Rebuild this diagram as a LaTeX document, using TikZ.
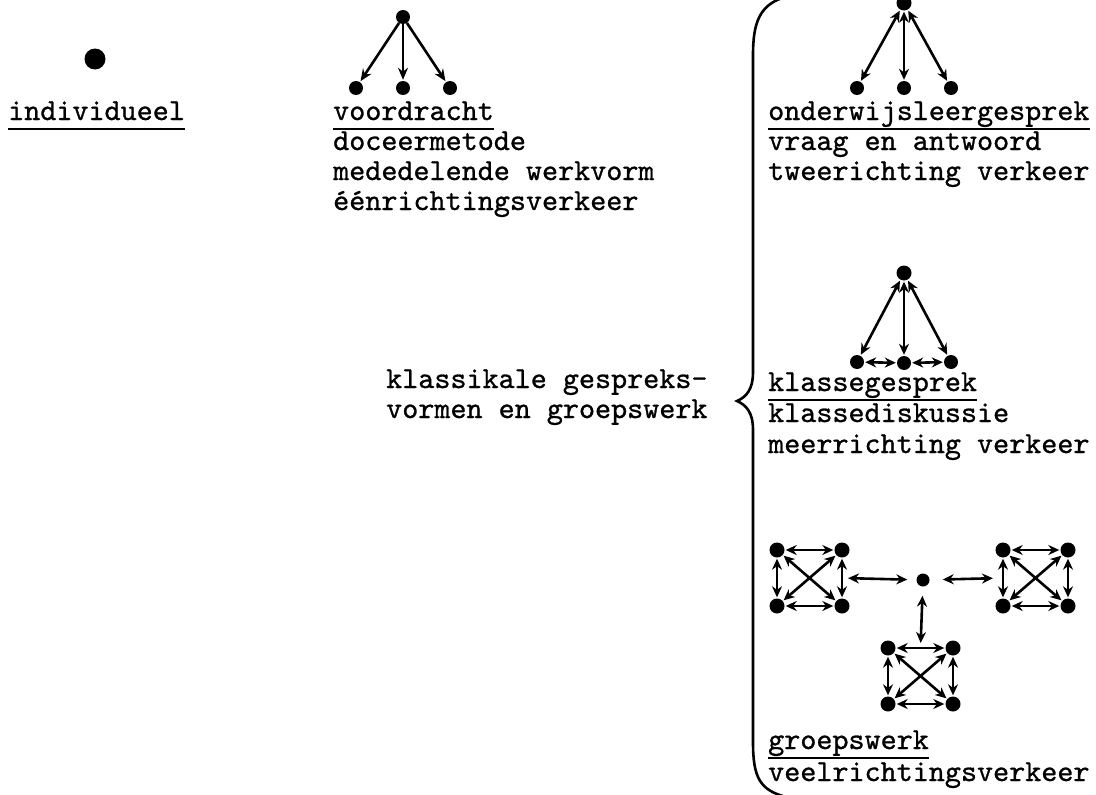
\documentclass[tikz,border=0pt]{standalone}
\usepackage{fontspec}
\newfontfamily\typefont{lmmono10-regular.otf}[FakeBold=0.9]
\usetikzlibrary{arrows.meta,positioning,calc}

\tikzset{
  dot/.style={circle,fill,inner sep=0pt,minimum size=14pt},
  txt/.style={inner sep=0pt,anchor=base west,font=\typefont\fontsize{30.6}{30}\selectfont},
  uline/.style={line width=2.8pt},
  arr/.style={-{Stealth[length=12pt,width=10pt]},line width=2.6pt,shorten >=1pt},
  both/.style={{Stealth[length=11pt,width=10pt]}-{Stealth[length=11pt,width=10pt]},line width=2.6pt,shorten >=1pt,shorten <=1pt},
  brace/.style={line width=2.6pt},
}
\newcommand{\headline}[1]{\draw[uline] ([yshift=-9pt]#1.base west) -- ([yshift=-9pt]#1.base east);}

\begin{document}
\begin{tikzpicture}[x=1pt,y=-1pt]
   \useasboundingbox (0,0) rectangle (1096,795);

   % individueel
   \node[dot,minimum size=21pt] (idot) at (95,59) {};
   \node[txt] (ind) at (8,120) {individueel};
   \headline{ind}

   % voordracht
   \node[dot] (vtop) at (403,17) {};
   \node[dot] (v1) at (356,88) {};
   \node[dot] (v2) at (403,88) {};
   \node[dot] (v3) at (450,88) {};
   \draw[arr] (vtop) -- (v1);
   \draw[arr] (vtop) -- (v2);
   \draw[arr] (vtop) -- (v3);
   \node[txt] (vd) at (333,120) {voordracht};
   \headline{vd}
   \node[txt] (vd1) at (333,150) {doceermetode};
   \node[txt] (vd2) at (333,180) {mededelende werkvorm};
   \node[txt] (vd3) at (333,210) {éénrichtingsverkeer};

   % brace
   \coordinate (tip) at (737,401);
   \draw[brace] (782,-2) .. controls (760,6) and (753,22) .. (753,55)
      -- (753,372) .. controls (753,390) and (746,397) .. (tip)
      .. controls (746,405) and (753,412) .. (753,430)
      -- (753,742) .. controls (753,778) and (760,790) .. (786,797);
   \node[txt] (kl1) at (386,388) {klassikale gespreks-};
   \node[txt] (kl2) at (386,418) {vormen en groepswerk};

   % onderwijsleergesprek
   \node[dot,minimum size=15pt] (otop) at (904,3) {};
   \node[dot] (o1) at (857,88) {};
   \node[dot] (o2) at (904,88) {};
   \node[dot] (o3) at (951,88) {};
   \draw[both] (otop) -- (o1);
   \draw[both] (otop) -- (o2);
   \draw[both] (otop) -- (o3);
   \node[txt] (ow) at (768,120) {onderwijsleergesprek};
   \headline{ow}
   \node[txt] (ow1) at (768,150) {vraag en antwoord};
   \node[txt] (ow2) at (768,180) {tweerichting verkeer};

   % klassegesprek
   \node[dot,minimum size=15pt] (ktop) at (904,273) {};
   \node[dot] (k1) at (857,362) {};
   \node[dot] (k2) at (904,363) {};
   \node[dot] (k3) at (951,362) {};
   \draw[both] (ktop) -- (k1);
   \draw[both] (ktop) -- (k2);
   \draw[both] (ktop) -- (k3);
   \draw[both] (k1) -- (k2);
   \draw[both] (k2) -- (k3);
   \node[txt] (kg) at (768,391) {klassegesprek};
   \headline{kg}
   \node[txt] (kg1) at (768,422) {klassediskussie};
   \node[txt] (kg2) at (768,453) {meerrichting verkeer};

   % groepswerk
   \node[dot,minimum size=13pt] (mid) at (923,580) {};
   \foreach \g/\x/\y in {L/777/550,R/1003/550,B/888/648}{
      \node[dot,minimum size=15pt] (\g1) at (\x,\y) {};
      \node[dot,minimum size=15pt] (\g2) at (\x+65,\y) {};
      \node[dot,minimum size=15pt] (\g3) at (\x,\y+56) {};
      \node[dot,minimum size=15pt] (\g4) at (\x+65,\y+56) {};
      \draw[both] (\g1) -- (\g2);
      \draw[both] (\g3) -- (\g4);
      \draw[both] (\g1) -- (\g3);
      \draw[both] (\g2) -- (\g4);
      \draw[both] (\g1) -- (\g4);
      \draw[both] (\g2) -- (\g3);
   }
   \coordinate (Lm) at ($(L2)!.5!(L4)$);
   \coordinate (Rm) at ($(R1)!.5!(R3)$);
   \coordinate (Bm) at ($(B1)!.5!(B2)$);
   \draw[both,shorten <=6pt,shorten >=9pt] (Lm) -- (mid);
   \draw[both,shorten <=13pt,shorten >=10pt] (mid) -- (Rm);
   \draw[both,shorten <=9pt,shorten >=5pt] (mid) -- (Bm);
   \node[txt] (gw) at (768,749) {groepswerk};
   \headline{gw}
   \node[txt] (gw1) at (768,781) {veelrichtingsverkeer};
\end{tikzpicture}
\end{document}
